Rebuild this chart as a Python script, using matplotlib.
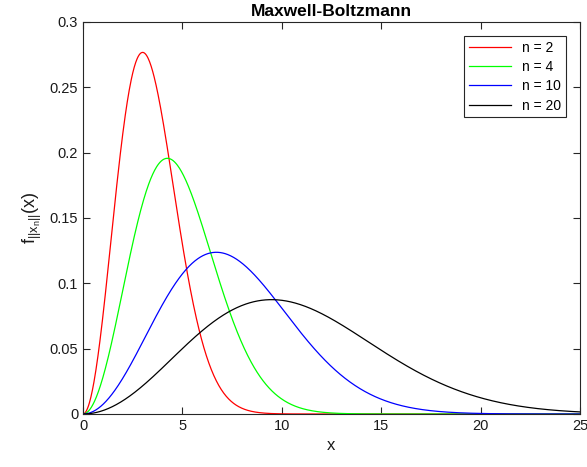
import numpy as np
import matplotlib
matplotlib.use("Agg")
import matplotlib.pyplot as plt

plt.rcParams['font.family'] = ['Liberation Sans', 'DejaVu Sans']
plt.rcParams['mathtext.fontset'] = 'custom'
plt.rcParams['mathtext.rm'] = 'Liberation Sans'
plt.rcParams['mathtext.default'] = 'regular'

# Parameters (Maxwell-Boltzmann pdf, scale a = 1.5*sqrt(n))
n_values = [2, 4, 10, 20]
scale_factor = 1.5
labels = ['n = 2', 'n = 4', 'n = 10', 'n = 20']
colors = ['#ff0000', '#00ff00', '#0000ff', '#000000']
x_ticks = [0, 5, 10, 15, 20, 25]
y_ticks = [0, 0.05, 0.1, 0.15, 0.2, 0.25, 0.3]
y_ticklabels = ['0', '0.05', '0.1', '0.15', '0.2', '0.25', '0.3']

x = np.linspace(0, 25, 1000)

def maxwell_pdf(x, a):
    return np.sqrt(2 / np.pi) * x**2 * np.exp(-x**2 / (2 * a**2)) / a**3

fig = plt.figure(figsize=(5.87, 4.67), dpi=100)
ax = fig.add_axes([0.1414, 0.1135, 0.8466, 0.8394])

for n, lab, c in zip(n_values, labels, colors):
    a = scale_factor * np.sqrt(n)
    ax.plot(x, maxwell_pdf(x, a), color=c, lw=0.9, label=lab)

ax.set_xlim(0, 25)
ax.set_ylim(0, 0.3)
ax.set_xticks(x_ticks)
ax.set_yticks(y_ticks)
ax.set_yticklabels(y_ticklabels)
edge = '#262626'
for s in ax.spines.values():
    s.set_color(edge)
    s.set_linewidth(0.8)
ax.tick_params(direction='in', top=True, right=True, length=5, width=0.8,
               colors=edge, labelsize=10.5, labelcolor='#1a1a1a')
ax.set_xlabel('x', fontsize=12, color='#1a1a1a')
ax.set_ylabel(r'$f_{||x_n||}(x)$', fontsize=13, color='#1a1a1a')
ax.set_title('Maxwell-Boltzmann', fontsize=12.5, fontweight='bold', pad=4)

leg = ax.legend(loc='upper right', fontsize=10, fancybox=False, framealpha=1,
                edgecolor=edge, borderaxespad=1.0, handlelength=3.0,
                labelspacing=0.38, borderpad=0.35)
leg.get_frame().set_linewidth(0.8)

fig.savefig('out.png', dpi=100)
